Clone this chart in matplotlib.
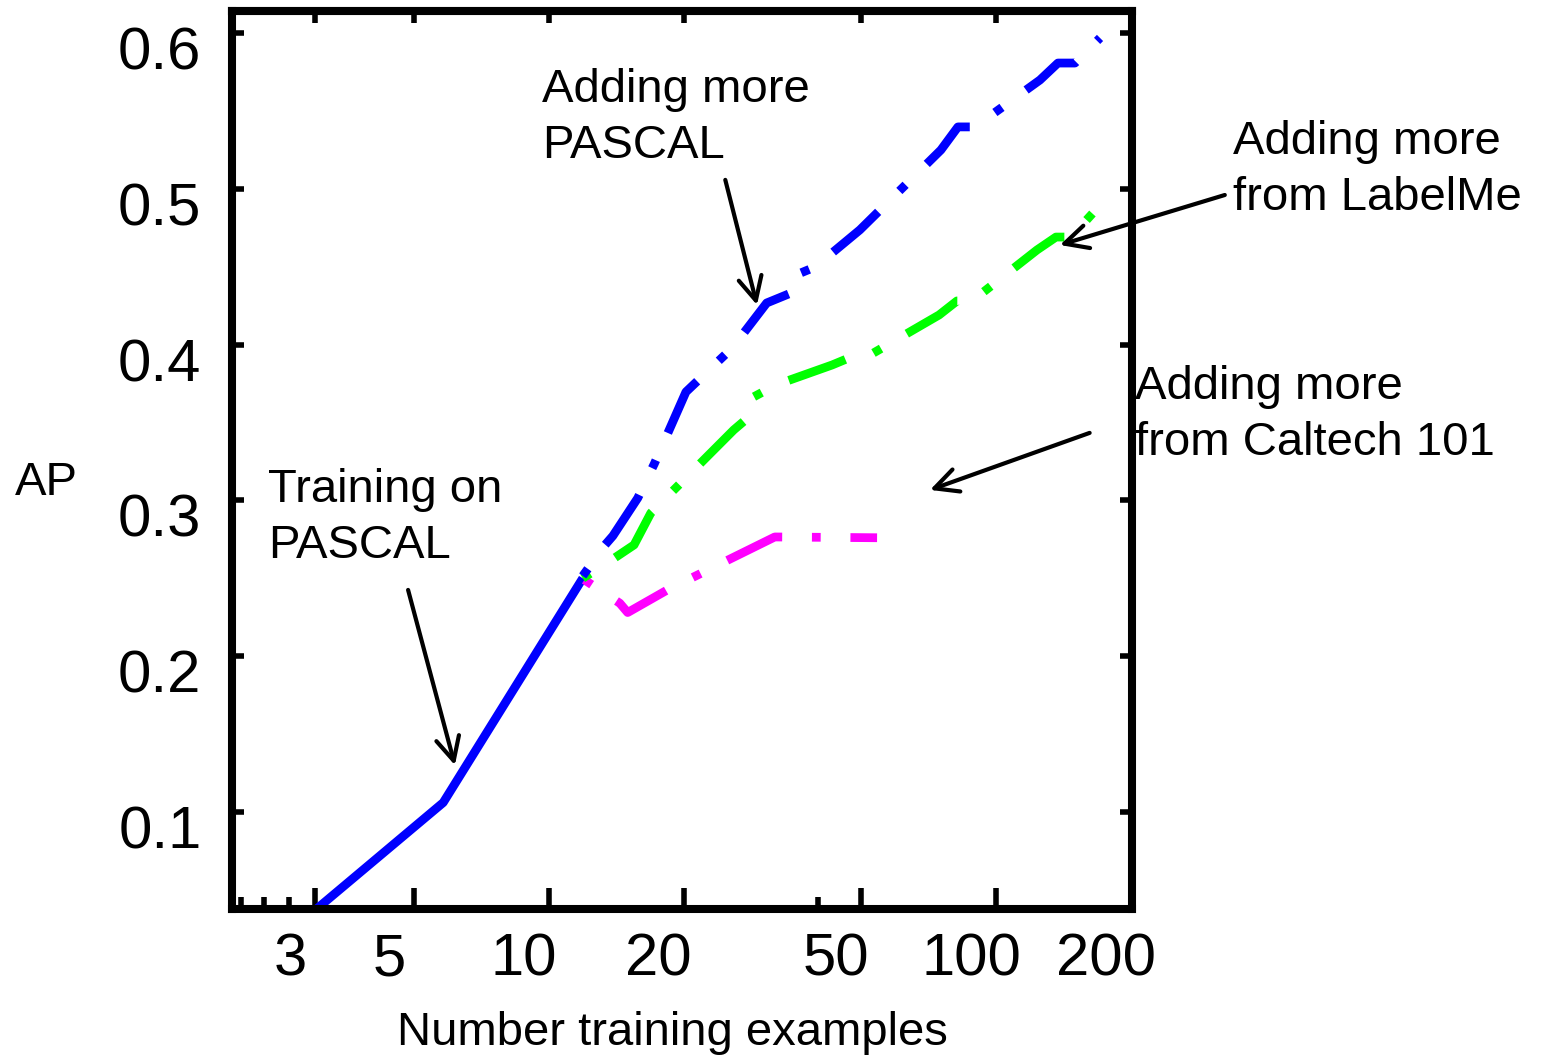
import numpy as np
import matplotlib
matplotlib.use("Agg")
import matplotlib.pyplot as plt
from matplotlib.transforms import ScaledTranslation
from matplotlib.ticker import NullFormatter, NullLocator

plt.rcParams['font.family'] = ['Liberation Sans', 'DejaVu Sans']

# ---- data ----
pascal_x = [3.0, 5.8, 11.9]
pascal_y = [0.037, 0.106, 0.250]

more_pascal_x = [11.9, 13.35, 13.9, 15.8, 17.2, 20.25, 25.7, 30.7, 34.8, 34.8, 39.4,
                 49.6, 75.3, 82.2, 89.7, 125.4, 137.6, 150.2, 170.9]
more_pascal_y = [0.2515, 0.2714, 0.2772, 0.3015, 0.3234, 0.3696, 0.3978, 0.4267, 0.4331, 0.4434, 0.4498,
                 0.4736, 0.5249, 0.5397, 0.5397, 0.5698, 0.5807, 0.5807, 0.5968]

labelme_x = [11.9, 13.8, 15.5, 16.9, 25.9, 28.7, 28.7, 32.2, 43.0, 46.9, 50.9,
             74.6, 81.8, 88.4, 123.5, 136.2, 147.2, 176.0]
labelme_y = [0.250, 0.2617, 0.2714, 0.2919, 0.3452, 0.3561, 0.3664, 0.3741, 0.3869, 0.3914, 0.3914,
             0.419, 0.428, 0.428, 0.4607, 0.469, 0.469, 0.4935]

caltech_x = [12.0, 14.4, 15.0, 18.4, 32.0, 54.2]
caltech_y = [0.249, 0.234, 0.228, 0.2425, 0.2765, 0.276]

xticks = [3, 5, 10, 20, 50, 100, 200]
xticklabels = ['3', '5', '10', '20', '50', '100', '200']
top_ticks = [3, 5, 10, 20, 50, 100]
minor_ticks = [2.05, 2.3, 2.62, 40]
yticks = [0.1, 0.2, 0.3, 0.4, 0.5, 0.6]
yticklabels = ['0.1', '0.2', '0.3', '0.4', '0.5', '0.6']

W, H = 1543, 1056
fig = plt.figure(figsize=(W / 100, H / 100), dpi=100)
ax = fig.add_axes([232 / W, 1 - 909 / H, 900 / W, 898 / H])


def px(x, y):
    return x / W, 1 - y / H


# dash-dot that starts on the dot, like the original
pattern = (6.9, 3.4, 1.0, 3.4)
dd = (pattern[0] + pattern[1], pattern)
lw = 6.3
ax.plot(pascal_x, pascal_y, color='#0000ff', lw=lw, solid_capstyle='butt')
ax.plot(caltech_x, caltech_y, color='#ff00ff', lw=lw, linestyle=dd)
ax.plot(labelme_x, labelme_y, color='#00ff00', lw=lw, linestyle=dd)
ax.plot(more_pascal_x, more_pascal_y, color='#0000ff', lw=lw, linestyle=dd)

ax.set_xscale('log')
ax.set_xlim(1.954, 201.5)
ax.set_ylim(0.0377, 0.6141)

for s in ax.spines.values():
    s.set_linewidth(5.8)

ax.set_xticks(xticks, xticklabels)
ax.set_xticks(minor_ticks, minor=True)
ax.xaxis.set_minor_formatter(NullFormatter())
ax.set_yticks(yticks, yticklabels)
ax.tick_params(axis='x', which='major', direction='in', length=15, width=4,
               labelsize=43, pad=17, top=False)
ax.tick_params(axis='x', which='minor', direction='in', length=8.6, width=4, top=False)
ax.tick_params(axis='y', direction='in', length=8.6, width=4, labelsize=43,
               pad=22, right=True)
ax.yaxis.set_minor_locator(NullLocator())

top = ax.secondary_xaxis('top')
top.set_xticks(top_ticks, [''] * len(top_ticks))
top.xaxis.set_minor_locator(NullLocator())
top.tick_params(direction='in', length=8.6, width=4)
top.spines['top'].set_linewidth(5.8)

# tick labels in the original sit a bit off their ticks
for lab in ax.get_xticklabels():
    lab.set_transform(lab.get_transform() + ScaledTranslation(-0.25, 0, fig.dpi_scale_trans))
for lab in ax.get_yticklabels():
    lab.set_transform(lab.get_transform() + ScaledTranslation(0, -0.15, fig.dpi_scale_trans))

fs = 34
fig.text(*px(15, 495), 'AP', fontsize=fs, va='baseline')
fig.text(*px(672, 1045), 'Number training examples', fontsize=fs, ha='center', va='baseline')

# multi-line text: baseline refers to the last line
ls = 1.35
fig.text(*px(542, 158), 'Adding more\nPASCAL', fontsize=fs, va='baseline', linespacing=ls)
fig.text(*px(1233, 210), 'Adding more\nfrom LabelMe', fontsize=fs, va='baseline', linespacing=ls)
fig.text(*px(1135, 455), 'Adding more\nfrom Caltech 101', fontsize=fs, va='baseline', linespacing=ls)
fig.text(*px(268, 558), 'Training on\nPASCAL', fontsize=fs, va='baseline', linespacing=ls)

arrow = dict(arrowstyle='->', lw=3, color='black', mutation_scale=42,
             shrinkA=0, shrinkB=0)
ax.annotate('', xy=(29.2, 0.4254), xytext=(24.8, 0.5057), arrowprops=arrow, annotation_clip=False)
ax.annotate('', xy=(139, 0.4639), xytext=(325, 0.496), arrowprops=arrow, annotation_clip=False)
ax.annotate('', xy=(71.2, 0.3067), xytext=(162, 0.3433), arrowprops=arrow, annotation_clip=False)
ax.annotate('', xy=(6.16, 0.130), xytext=(4.84, 0.2425), arrowprops=arrow, annotation_clip=False)

fig.savefig('out.png', dpi=100)
